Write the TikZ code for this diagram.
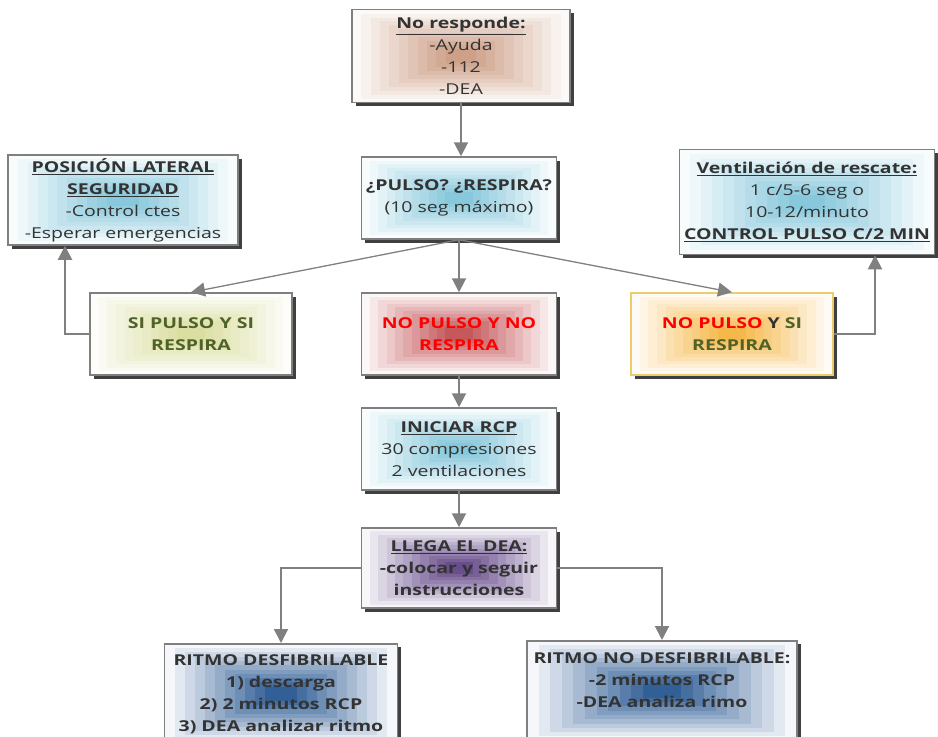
\documentclass[tikz,border=0pt]{standalone}
\usepackage{fontspec}
\setmainfont{Open Sans}[FakeStretch = 1.3]
\usetikzlibrary{arrows.meta, shadows, calc}

\definecolor{txt}{HTML}{333333}
\definecolor{linegray}{HTML}{808080}
\definecolor{boxgray}{HTML}{7F7F7F}
\definecolor{okgreen}{HTML}{4F6228}
\definecolor{tancore}{RGB}{205,160,135}
\definecolor{skycore}{RGB}{135,200,220}
\definecolor{limecore}{RGB}{218,222,160}
\definecolor{rosecore}{RGB}{196,88,90}
\definecolor{suncore}{RGB}{245,185,75}
\definecolor{plumcore}{RGB}{105,78,140}
\definecolor{navycore}{RGB}{50,95,150}

\begin{document}
\begin{tikzpicture}[x = 1pt, y = -1pt, % pixel-like units, y grows down
                > = {Triangle[width = 14pt, length = 14pt]}, % arrow head style
                line width = 2pt % line style
            ]

            \useasboundingbox (0,0) rectangle (938,737);

            \tikzstyle{every node}=[draw = boxgray, line width = 1.5pt, rectangle,
            align = center, text = txt, inner sep = 2pt,
            font = \fontsize{15}{22}\selectfont,
            drop shadow = {shadow xshift = 3.5pt, shadow yshift = -3.5pt,
                fill = black!75, opacity = 1}]
            % stepped box gradient, pale rim to coloured core
            \tikzstyle{grad}=[path picture = {
                \foreach \k [evaluate = \k as \pc using int(5 + 9.5*\k),
                        evaluate = \k as \f using 0.043*\k] in {0,...,10}
                \fill[#1!\pc!white]
                ($(path picture bounding box.south west)!\f!(path picture bounding box.north east)$)
                rectangle
                ($(path picture bounding box.north east)!\f!(path picture bounding box.south west)$);
            }]
            \tikzstyle{conn}=[->, draw = linegray, line width = 2pt]
            \tikzstyle{thinconn}=[conn, line width = 1.3pt]

            % main column
            \node[grad = tancore, minimum width = 218, minimum height = 93] (resp) at (461,56)
            {\textbf{\underline{No responde:}}\\-Ayuda\\-112\\-DEA};
            \node[grad = skycore, minimum width = 195, minimum height = 82] (pulso) at (459,198)
            {\textbf{¿PULSO? ¿RESPIRA?}\\(10 seg máximo)};
            \node[grad = rosecore, text = red, minimum width = 195, minimum height = 82] (nopulso) at (459,334)
            {\textbf{NO PULSO Y NO}\\\textbf{RESPIRA}};
            \node[grad = skycore, minimum width = 195, minimum height = 82] (rcp) at (459,449)
            {\textbf{\underline{INICIAR RCP}}\\30 compresiones\\2 ventilaciones};
            \node[grad = plumcore, minimum width = 195, minimum height = 80] (dea) at (459,568)
            {\textbf{\underline{LLEGA EL DEA:}}\\\textbf{-colocar y seguir}\\\textbf{instrucciones}};

            % sides
            \node[grad = skycore, minimum width = 230, minimum height = 90] (lateral) at (123,200)
            {\textbf{\underline{POSICIÓN LATERAL}}\\\textbf{\underline{SEGURIDAD}}\\-Control ctes\\-Esperar emergencias};
            \node[grad = limecore, text = okgreen, minimum width = 202, minimum height = 82] (sipulso) at (191,334)
            {\textbf{SI PULSO Y SI}\\\textbf{RESPIRA}};
            \node[grad = suncore, draw = {rgb,255:red,235;green,205;blue,110}, minimum width = 202, minimum height = 82] (nopulsosi) at (732,334)
            {\textbf{\textcolor{red}{NO PULSO} Y \textcolor{okgreen}{SI}}\\\textbf{\textcolor{okgreen}{RESPIRA}}};
            \node[grad = skycore, minimum width = 255, minimum height = 105] (venti) at (807,202)
            {\textbf{\underline{Ventilación de rescate:}}\\1 c/5-6 seg o\\10-12/minuto\\\textbf{\underline{CONTROL PULSO C/2 MIN}}};

            % bottom row
            \node[grad = navycore, anchor = north, minimum width = 233, minimum height = 100] (desf) at (281,643)
            {\textbf{RITMO DESFIBRILABLE}\\\textbf{1) descarga}\\\textbf{2) 2 minutos RCP}\\\textbf{3) DEA analizar ritmo}};
            \node[grad = navycore, anchor = north, minimum width = 270, minimum height = 100] (nodesf) at (662,640)
            {\textbf{RITMO NO DESFIBRILABLE:}\\\textbf{-2 minutos RCP}\\\textbf{-DEA analiza rimo}\\\mbox{}};

            \draw[conn] (resp) -- (resp |- pulso.north); \draw[conn] (pulso) -- (nopulso);
            \draw[thinconn] (pulso.south) -- (sipulso.north);
            \draw[thinconn] (pulso.south) -- (nopulsosi.north);
            \draw[conn] (nopulso) -- (rcp); \draw[conn] (rcp) -- (dea);
            \draw[conn] (sipulso.west) -| ([xshift = -58pt]lateral.south);
            \draw[conn] (nopulsosi.east) -| ([xshift = 68pt]venti.south);
            \draw[conn] (dea.west) -| (desf.north);
            \draw[conn] (dea.east) -| (nodesf.north);
\end{tikzpicture}
\end{document}
